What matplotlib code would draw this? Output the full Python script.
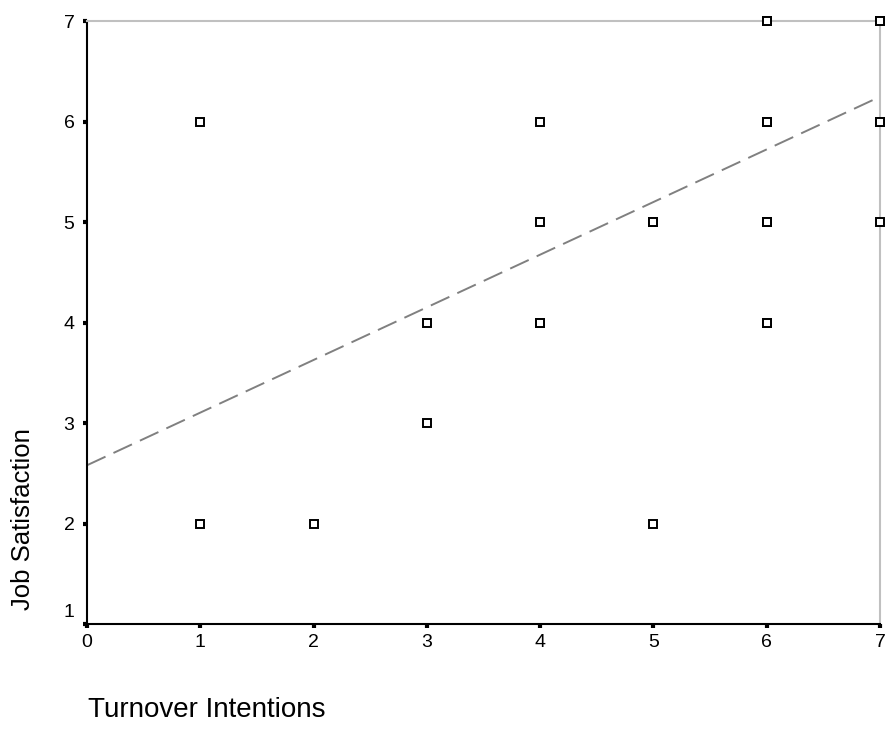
import numpy as np
import matplotlib.pyplot as plt
import matplotlib.transforms as mtransforms

plt.rcParams['font.family'] = ['Liberation Sans', 'DejaVu Sans']

# data (repeated pairs drawn darker in the original)
turnover = [1, 1, 2, 3, 3, 4, 4, 4, 4, 5, 5, 5, 6, 6, 6, 6, 6, 6, 6, 6, 7, 7, 7, 7, 7]
satisfaction = [6, 2, 2, 4, 3, 6, 5, 4, 4, 5, 5, 2, 7, 7, 6, 6, 5, 5, 4, 4, 7, 7, 6, 6, 5]

# fit line
intercept = 2.58
slope = 0.524

fig = plt.figure(figsize=(8.85, 7.29), dpi=100)
ax = fig.add_axes([0.0983, 0.144, 0.8961, 0.827])

xs = np.array([0, 7])
ax.plot(xs, intercept + slope * xs, color='#808080', lw=1.4,
        dashes=(10.5, 4.5), zorder=2)

ax.plot(turnover, satisfaction, 's', markersize=5.2, markerfacecolor='white',
        markeredgecolor='black', markeredgewidth=1.4, linestyle='none',
        clip_on=False, zorder=3)

ax.set_xlim(0, 7)
ax.set_ylim(1, 7)
ax.set_xticks(range(0, 8))
ax.set_yticks(range(1, 8))

for s in ['left', 'bottom']:
    ax.spines[s].set_color('black')
    ax.spines[s].set_linewidth(1.5)
for s in ['top', 'right']:
    ax.spines[s].set_color('#c0c0c0')
    ax.spines[s].set_linewidth(1.5)

ax.tick_params(direction='out', length=3, width=3, color='black',
               labelsize=14)
ax.tick_params(axis='y', pad=6)
ax.tick_params(axis='x', pad=4)

# the lowest y label sits a little above its tick
lab = ax.get_yticklabels()[0]
lab.set_transform(lab.get_transform() + mtransforms.ScaledTranslation(0, 10/72, fig.dpi_scale_trans))

fig.text(0.0995, 0.008, 'Turnover Intentions', fontsize=20, ha='left', va='bottom')
fig.text(0.026, 0.163, 'Job Satisfaction', fontsize=18.5, rotation=90,
         ha='center', va='bottom')

plt.savefig('out.png', dpi=100)
